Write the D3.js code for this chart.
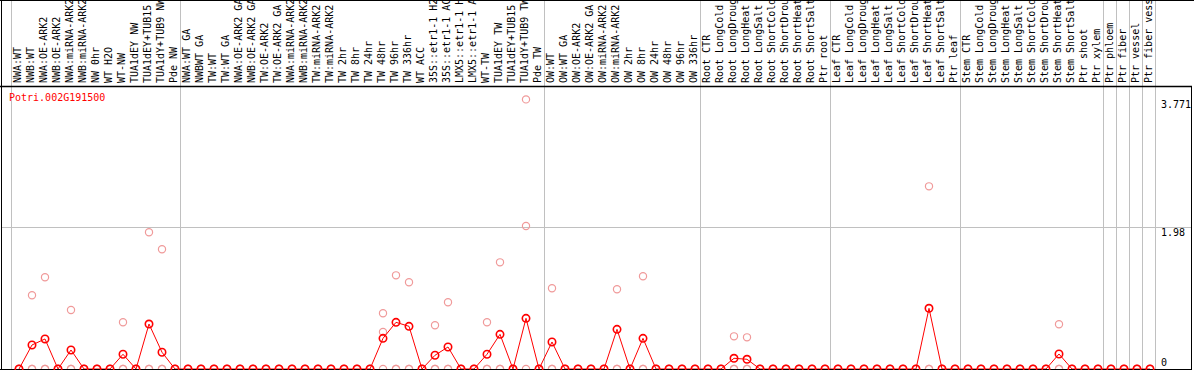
<!DOCTYPE html>
<html>
<head>
<meta charset="utf-8">
<script src="https://cdnjs.cloudflare.com/ajax/libs/d3/7.8.5/d3.min.js"></script>
<style>
  body { margin: 0; background: #fff; }
  svg { display: block; }
  text { font-family: "DejaVu Sans Mono", monospace; font-size: 10px; }
</style>
</head>
<body>
<svg id="chart" width="1194" height="370"></svg>
<script>
var geneName = "Potri.002G191500";

// sample names, one per column
var samples = [
  "NWA:WT", "NWB:WT", "NWA:OE-ARK2", "NWB:OE-ARK2", "NWA:miRNA-ARK2", "NWB:miRNA-ARK2", "NW 0hr", "WT H2O", "WT-NW", "TUA1dEY NW", "TUA1dEY+TUB15 NW", "TUA1dY+TUB9 NW", "Pde NW",
  "NWA:WT GA", "NWBWT GA", "TW:WT", "TW:WT GA", "NWA:OE-ARK2 GA", "NWB:OE-ARK2 GA", "TW:OE-ARK2", "TW:OE-ARK2 GA", "NWA:miRNA-ARK2 GA", "NWB:miRNA-ARK2 GA", "TW:miRNA-ARK2", "TW:miRNA-ARK2 GA",
  "TW 2hr", "TW 8hr", "TW 24hr", "TW 48hr", "TW 96hr", "TW 336hr", "WT ACC", "35S::etr1-1 H2O", "35S::etr1-1 ACC", "LMX5::etr1-1 H2O", "LMX5::etr1-1 ACC", "WT-TW", "TUA1dEY TW", "TUA1dEY+TUB15 TW", "TUA1dY+TUB9 TW", "Pde TW",
  "OW:WT", "OW:WT GA", "OW:OE-ARK2", "OW:OE-ARK2 GA", "OW:miRNA-ARK2", "OW:miRNA-ARK2 GA", "OW 2hr", "OW 8hr", "OW 24hr", "OW 48hr", "OW 96hr", "OW 336hr",
  "Root CTR", "Root LongCold", "Root LongDrought", "Root LongHeat", "Root LongSalt", "Root ShortCold", "Root ShortDrought", "Root ShortHeat", "Root ShortSalt", "Ptr root",
  "Leaf CTR", "Leaf LongCold", "Leaf LongDrought", "Leaf LongHeat", "Leaf LongSalt", "Leaf ShortCold", "Leaf ShortDrought", "Leaf ShortHeat", "Leaf ShortSalt", "Ptr leaf",
  "Stem CTR", "Stem LongCold", "Stem LongDrought", "Stem LongHeat", "Stem LongSalt", "Stem ShortCold", "Stem ShortDrought", "Stem ShortHeat", "Stem ShortSalt", "Ptr shoot", "Ptr xylem",
  "Ptr phloem", "Ptr fiber", "Ptr vessel", "Ptr fiber vessel"
];
var groupSizes = [13, 28, 12, 10, 10, 11, 1, 1, 1, 1];

// mean expression (red line)
var expr = [
  0, 0.336, 0.420, 0, 0.266, 0, 0, 0, 0.206, 0, 0.629, 0.234, 0,
  0, 0, 0, 0, 0, 0, 0, 0, 0, 0, 0, 0, 0, 0, 0, 0.429, 0.653, 0.597, 0, 0.192, 0.308, 0, 0, 0.206, 0.485, 0, 0.709, 0,
  0.378, 0, 0, 0, 0, 0.555, 0, 0.429, 0, 0, 0, 0,
  0, 0, 0.150, 0.136, 0, 0, 0, 0, 0, 0,
  0, 0, 0, 0, 0, 0, 0, 0.849, 0, 0,
  0, 0, 0, 0, 0, 0, 0, 0.210, 0, 0, 0,
  0, 0, 0, 0
];
// replicates (pale circles)
var repA = [
  0, 1.031, 1.283, 0, 0.825, 0, 0, 0, 0.653, 0, 1.912, 1.674, 0,
  0, 0, 0, 0, 0, 0, 0, 0, 0, 0, 0, 0, 0, 0, 0, 0.779, 1.310, 1.213, 0, 0.611, 0.933, 0, 0, 0.653, 1.492, 0, 3.771, 0,
  1.129, 0, 0, 0, 0, 1.115, 0, 1.297, 0, 0, 0, 0,
  0, 0, 0.457, 0.443, 0, 0, 0, 0, 0, 0,
  0, 0, 0, 0, 0, 0, 0, 2.555, 0, 0,
  0, 0, 0, 0, 0, 0, 0, 0.625, 0, 0, 0,
  0, 0, 0, 0
];
var repB = [
  0, 0, 0, 0, 0, 0, 0, 0, 0, 0, 0, 0, 0,
  0, 0, 0, 0, 0, 0, 0, 0, 0, 0, 0, 0, 0, 0, 0, 0.517, 0, 0, 0, 0, 0, 0, 0, 0, 0, 0, 2.0, 0,
  0, 0, 0, 0, 0, 0, 0, 0, 0, 0, 0, 0,
  0, 0, 0, 0, 0, 0, 0, 0, 0, 0,
  0, 0, 0, 0, 0, 0, 0, 0, 0, 0,
  0, 0, 0, 0, 0, 0, 0, 0, 0, 0, 0,
  0, 0, 0, 0
];
var repC = [
  0, 0, 0, 0, 0, 0, 0, 0, 0, 0, 0, 0, 0,
  0, 0, 0, 0, 0, 0, 0, 0, 0, 0, 0, 0, 0, 0, 0, 0, 0, 0, 0, 0, 0, 0, 0, 0, 0, 0, 0, 0,
  0, 0, 0, 0, 0, 0, 0, 0, 0, 0, 0, 0,
  0, 0, 0, 0, 0, 0, 0, 0, 0, 0,
  0, 0, 0, 0, 0, 0, 0, 0, 0, 0,
  0, 0, 0, 0, 0, 0, 0, 0, 0, 0, 0,
  0, 0, 0, 0
];
var yTicks = [3.771, 1.98, 0];

var left = 11, right = 1155, headerY = 86, baseY = 369, axisX = 1191;

var svg = d3.select('#chart');

var x = d3.scaleBand().domain(d3.range(samples.length)).range([left, right]);
var y = d3.scaleLinear().domain([0, 3.771]).range([baseY, 99.4]);
var cx = function(i) { return x(i) + 8; };

// group separators
var bounds = [0];
groupSizes.forEach(function(n, k) { bounds.push(bounds[k] + n); });
var sepX = bounds.map(function(b) { return b < samples.length ? x(b) : right; });

svg.append('g').selectAll('line').data(sepX).enter().append('line')
  .attr('x1', function(d) { return d + 0.5; }).attr('x2', function(d) { return d + 0.5; })
  .attr('y1', 0).attr('y2', baseY)
  .attr('stroke', '#c0c0c0').attr('shape-rendering', 'crispEdges');

// gridline at 1.98 only
svg.append('line')
  .attr('x1', 1).attr('x2', axisX)
  .attr('y1', Math.round(y(1.98)) + 0.5).attr('y2', Math.round(y(1.98)) + 0.5)
  .attr('stroke', '#c0c0c0').attr('shape-rendering', 'crispEdges');

// sample labels, rotated (long ones run off the top, as in the original)
svg.append('g').selectAll('text').data(samples).enter().append('text')
  .attr('transform', function(d, i) { return 'translate(' + (x(i) + 10) + ',' + (headerY - 3) + ') rotate(-90)'; })
  .attr('fill', '#000')
  .text(function(d) { return d; });

// replicate circles
[repA, repB, repC].forEach(function(rep) {
  svg.append('g').selectAll('circle').data(rep).enter().append('circle')
    .attr('cx', function(d, i) { return cx(i); })
    .attr('cy', function(d) { return y(d); })
    .attr('r', 3.6)
    .attr('fill', 'none')
    .attr('stroke', '#f09a9a')
    .attr('stroke-width', 1.2);
});

// mean line
var line = d3.line().x(function(d, i) { return cx(i); }).y(function(d) { return y(d); });
svg.append('path').datum(expr)
  .attr('d', line)
  .attr('fill', 'none')
  .attr('stroke', '#ff0000')
  .attr('stroke-width', 1);

// frame
svg.append('line').attr('x1', 0).attr('x2', 1194).attr('y1', 0.5).attr('y2', 0.5)
  .attr('stroke', '#000').attr('shape-rendering', 'crispEdges');
svg.append('line').attr('x1', 1.5).attr('x2', 1.5).attr('y1', 0).attr('y2', 370)
  .attr('stroke', '#000').attr('shape-rendering', 'crispEdges');
svg.append('line').attr('x1', 0).attr('x2', axisX + 1).attr('y1', headerY + 0.5).attr('y2', headerY + 0.5)
  .attr('stroke', '#000').attr('stroke-width', 1.5);
svg.append('line').attr('x1', axisX + 0.5).attr('x2', axisX + 0.5).attr('y1', headerY).attr('y2', 370)
  .attr('stroke', '#000').attr('shape-rendering', 'crispEdges');
svg.append('line').attr('x1', 0).attr('x2', axisX + 1).attr('y1', baseY + 0.5).attr('y2', baseY + 0.5)
  .attr('stroke', '#000').attr('shape-rendering', 'crispEdges');

// mean circles
svg.append('g').selectAll('circle').data(expr).enter().append('circle')
  .attr('cx', function(d, i) { return cx(i); })
  .attr('cy', function(d) { return y(d); })
  .attr('r', 3.7)
  .attr('fill', 'none')
  .attr('stroke', '#ff0000')
  .attr('stroke-width', 1.6);

// right axis labels
svg.append('g').selectAll('text').data(yTicks).enter().append('text')
  .attr('x', 1161)
  .attr('y', function(d) { return d === 0 ? baseY - 3 : y(d) + 9; })
  .attr('fill', '#000')
  .text(function(d) { return d; });

// gene name
svg.append('text').attr('x', 9).attr('y', 101).attr('fill', '#ff0000').text(geneName);
</script>
</body>
</html>
